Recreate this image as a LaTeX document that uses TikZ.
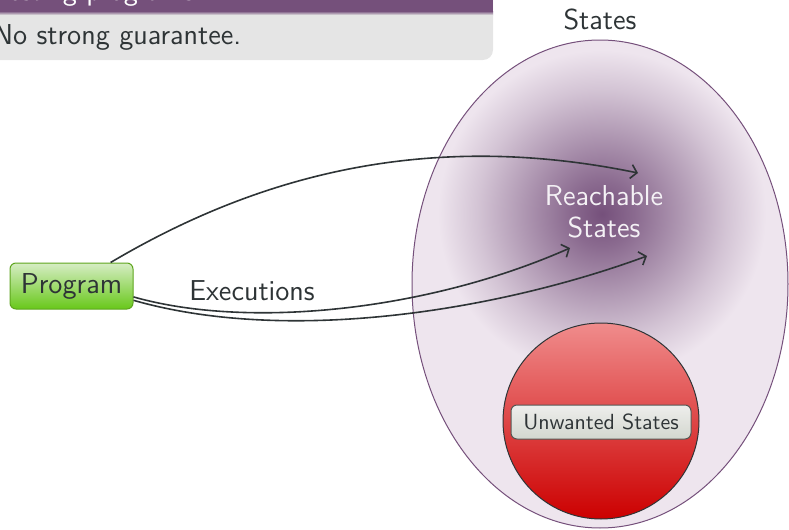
\documentclass[tikz,border=0pt]{standalone}
\usepackage{fontspec}
\usetikzlibrary{shapes.geometric,arrows.meta}

% Tango-style palette
\definecolor{plum}{HTML}{75507B}
\definecolor{ink}{HTML}{2E3436}
\definecolor{haze}{HTML}{EEE5EE}
\definecolor{blockbody}{HTML}{E5E5E5}
\definecolor{redtop}{HTML}{F08C8C}
\definecolor{redbot}{HTML}{CC0000}
\definecolor{greentop}{HTML}{D6EDC4}
\definecolor{greenbot}{HTML}{68C81A}
\definecolor{greenedge}{HTML}{5EA51E}
\definecolor{boxtop}{HTML}{EEEEEC}
\definecolor{boxbot}{HTML}{D3D7CF}
\definecolor{boxedge}{HTML}{555753}

% soft glow for the reachable part of the state space
\pgfdeclareradialshading{reachglow}{\pgfpoint{0bp}{0bp}}{%
  color(0bp)=(plum);
  color(5bp)=(plum!82!haze);
  color(12bp)=(plum!52!haze);
  color(19bp)=(plum!22!haze);
  color(25bp)=(haze);
  color(50bp)=(haze)}

\tikzset{
  bigtext/.style={font=\sffamily\fontsize{14.4}{16}\selectfont},
  smalltext/.style={font=\sffamily\fontsize{10.95}{13}\selectfont},
  conn/.style={draw=ink, line width=0.8pt, -{Straight Barb[length=3pt,width=7pt]}},
  progbox/.style={draw=greenedge, line width=0.5pt, rounded corners=3pt,
    top color=greentop, bottom color=greenbot, minimum width=61.5pt,
    minimum height=23pt, inner sep=0pt, bigtext},
  tagbox/.style={draw=boxedge, line width=0.5pt, rounded corners=3pt,
    top color=boxtop, bottom color=boxbot, minimum width=90pt,
    minimum height=17pt, inner sep=0pt, smalltext}
}

\begin{document}
\begin{tikzpicture}[x=0.5pt, y=-0.5pt, text=ink, bigtext]
\useasboundingbox (0,0) rectangle (789,530);

% block: title bar and body
\fill[blockbody, rounded corners=5pt] (-30,-10) rectangle (493,60);
\fill[plum] (-30,-20) rectangle (493,11);
\shade[top color=plum, bottom color=blockbody] (-30,11) rectangle (493,15);
\node[anchor=base west, text=white, inner sep=0pt] (ttl) at (-9,0) {Testing programs};
\node[anchor=base west, inner sep=0pt] (bodytxt) at (-7,45) {No strong guarantee.};

% set of states with the reachable part shaded
\node[ellipse, fill=haze, minimum width=188pt, minimum height=244pt, inner sep=0pt] (states) at (600,284) {};
\begin{scope}
  \clip (states.center) ellipse [x radius=94pt, y radius=122pt];
  \shade[shading=reachglow] (602,214) circle [radius=82pt];
\end{scope}
\draw[plum, line width=0.5pt] (states.center) ellipse [x radius=94pt, y radius=122pt];

\node (lbl) at (600,20) {States};
\node[text=white!92!plum, align=center] (reach) at (604,212) {Reachable\\States};

% unwanted states
\node[circle, draw=ink, line width=0.5pt, top color=redtop, bottom color=redbot,
      minimum size=98pt, inner sep=0pt] (bad) at (601,421) {};
\node[tagbox] (unw) at (601,422) {Unwanted States};

% program and its executions
\node[progbox] (prog) at (71.5,286) {Program};
\node (exec) at (252,291) {Executions};

\coordinate (t1) at (638,173);
\coordinate (t2) at (570,248);
\coordinate (t3) at (647,256);

\draw[conn] (prog.31) .. controls (250,180) and (420,128) .. (t1);
\draw[conn] (prog.-10) .. controls (250,330) and (430,310) .. (t2);
\draw[conn] (prog.-13) .. controls (290,345) and (500,310) .. (t3);
\end{tikzpicture}
\end{document}
